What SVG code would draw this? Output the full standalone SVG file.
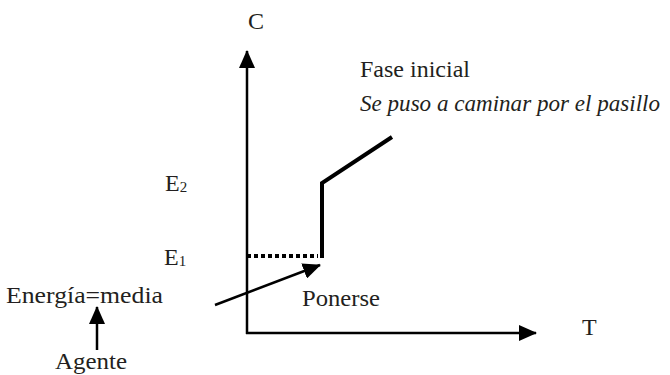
<svg xmlns="http://www.w3.org/2000/svg" width="670" height="375" viewBox="0 0 670 375" font-family="Liberation Serif, serif">
<style>
.lbl{fill:#231f20}
.ax{stroke:#000;stroke-width:2.5;fill:none}
.thick{stroke:#000;stroke-width:4;fill:none}
</style>
<defs>
<marker id="ahb" markerWidth="18" markerHeight="16" refX="17" refY="8" orient="auto" markerUnits="userSpaceOnUse" viewBox="0 0 18 16">
<path d="M0,0 L18,8 L0,16 z" fill="#000"/>
</marker>
</defs>
<g id="connectors">
<line class="ax" x1="247" y1="334" x2="247" y2="51" marker-end="url(#ahb)"/>
<line class="ax" x1="246" y1="333" x2="536" y2="333" marker-end="url(#ahb)"/>
<line x1="247" y1="256" x2="318" y2="256" stroke="#000" stroke-width="4" stroke-dasharray="4,3"/>
<polyline class="thick" points="322,258 322,183 392,137"/>
<line class="ax" x1="215" y1="305" x2="320" y2="265" marker-end="url(#ahb)"/>
<line class="ax" x1="97" y1="350" x2="97" y2="307" marker-end="url(#ahb)"/>
</g>
<g id="label-C"><text class="lbl" font-size="24" x="248" y="29">C</text></g>
<g id="label-T"><text class="lbl" font-size="24" x="582" y="335">T</text></g>
<g id="label-fase"><text class="lbl" font-size="24" x="360" y="77">Fase inicial</text></g>
<g id="label-se"><text class="lbl" font-size="24" font-style="italic" x="360" y="111" textLength="300" lengthAdjust="spacingAndGlyphs">Se puso a caminar por el pasillo</text></g>
<g id="label-E2"><text class="lbl" font-size="24" x="165" y="191">E<tspan font-size="15" dy="1">2</tspan></text></g>
<g id="label-E1"><text class="lbl" font-size="24" x="164" y="265">E<tspan font-size="15" dy="1">1</tspan></text></g>
<g id="label-energia"><text class="lbl" font-size="24" x="6" y="303" textLength="157" lengthAdjust="spacingAndGlyphs">Energía=media</text></g>
<g id="label-ponerse"><text class="lbl" font-size="24" x="302" y="306" textLength="78" lengthAdjust="spacingAndGlyphs">Ponerse</text></g>
<g id="label-agente"><text class="lbl" font-size="24" x="55" y="369" textLength="72" lengthAdjust="spacingAndGlyphs">Agente</text></g>
</svg>
